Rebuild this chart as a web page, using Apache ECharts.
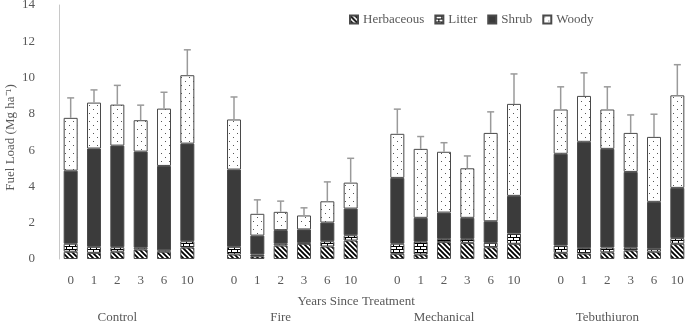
<!DOCTYPE html>
<html>
<head>
<meta charset="utf-8">
<script src="https://cdn.jsdelivr.net/npm/echarts@6/dist/echarts.min.js"></script>
<style>
  html, body { margin: 0; padding: 0; background: #fff; }
  #chart { width: 685px; height: 324px; }
</style>
</head>
<body>
<div id="chart"></div>
<script>
var treatments = ['Control', 'Fire', 'Mechanical', 'Tebuthiuron'];
var years = ['0', '1', '2', '3', '6', '10'];
var yTicks = [0, 2, 4, 6, 8, 10, 12, 14];

// fuel load (Mg/ha) per treatment x year, in order of treatments then years
var herbaceous = [0.40, 0.34, 0.40, 0.52, 0.40, 0.63,
                  0.25, 0.15, 0.74, 0.84, 0.69, 1.02,
                  0.29, 0.25, 0.93, 0.89, 0.65, 0.84,
                  0.34, 0.30, 0.37, 0.47, 0.40, 0.84];
var litter = [0.44, 0.33, 0.25, 0.10, 0.08, 0.35,
              0.42, 0.10, 0.10, 0.05, 0.29, 0.29,
              0.55, 0.70, 0.18, 0.22, 0.24, 0.56,
              0.40, 0.30, 0.26, 0.15, 0.16, 0.31];
var shrub = [4.03, 5.42, 5.60, 5.30, 4.65, 5.38,
             4.26, 1.04, 0.75, 0.74, 1.03, 1.47,
             3.63, 1.32, 1.45, 1.16, 1.19, 2.08,
             5.06, 5.86, 5.44, 4.18, 2.59, 2.77];
var woody = [2.91, 2.53, 2.26, 1.73, 3.16, 3.77,
             2.76, 1.20, 1.01, 0.77, 1.17, 1.43,
             2.43, 3.80, 3.35, 2.73, 4.87, 5.07,
             2.44, 2.53, 2.17, 2.15, 3.58, 5.10];
var totalErr = [1.10, 0.70, 1.06, 0.83, 0.90, 1.40,
                1.24, 0.77, 0.59, 0.42, 1.07, 1.34,
                1.36, 0.68, 0.50, 0.68, 1.16, 1.65,
                1.25, 1.27, 1.25, 0.99, 1.25, 1.69];

(function () {
  var font = 'Liberation Serif';
  var textColor = '#595959';
  var border = '#4a4a4a';

  function pattern(w, h, draw) {
    var c = document.createElement('canvas');
    c.width = w; c.height = h;
    var g = c.getContext('2d');
    g.fillStyle = '#fff';
    g.fillRect(0, 0, w, h);
    draw(g);
    return { image: c, repeat: 'repeat' };
  }

  var hatch = pattern(5, 5, function (g) {
    g.strokeStyle = '#000';
    g.lineWidth = 1.8;
    g.beginPath();
    g.moveTo(-1, -1); g.lineTo(6, 6);
    g.moveTo(-1, 4); g.lineTo(1, 6);
    g.moveTo(4, -1); g.lineTo(6, 1);
    g.stroke();
  });
  var brick = pattern(6, 6, function (g) {
    g.fillStyle = '#000';
    g.fillRect(0, 0, 6, 1);
    g.fillRect(0, 3, 6, 1);
    g.fillRect(0, 0, 1, 3);
    g.fillRect(3, 3, 1, 3);
  });
  var dots = pattern(8, 8, function (g) {
    g.fillStyle = '#555';
    g.fillRect(1, 1, 1, 1);
    g.fillRect(5, 5, 1, 1);
  });

  // lay the 24 bars out on 27 slots, one empty slot between treatments
  var cats = [], groupLabels = [], titleLabels = [], slotOf = [];
  treatments.forEach(function (t, ti) {
    years.forEach(function (y, yi) {
      slotOf.push(cats.length);
      groupLabels.push(yi === 2 ? t : '');
      cats.push(y);
    });
    if (ti < treatments.length - 1) {
      cats.push('');
      groupLabels.push('');
    }
  });
  cats.forEach(function (c, i) { titleLabels.push(i === 12 ? 'Years Since Treatment' : ''); });

  function slots(arr) {
    var out = cats.map(function () { return '-'; });
    arr.forEach(function (v, i) { out[slotOf[i]] = v; });
    return out;
  }

  var errData = herbaceous.map(function (h, i) {
    return [slotOf[i], h + litter[i] + shrub[i] + woody[i], totalErr[i]];
  });

  function barSeries(name, data, color) {
    return {
      name: name,
      type: 'bar',
      stack: 'fuel',
      barWidth: 14,
      data: slots(data),
      itemStyle: { color: color, borderColor: border, borderWidth: 1 }
    };
  }

  var chart = echarts.init(document.getElementById('chart'));
  chart.setOption({
    animation: false,
    textStyle: { fontFamily: font },
    legend: {
      left: 344,
      top: 8,
      itemWidth: 8,
      itemHeight: 8,
      itemGap: 10,
      icon: 'rect',
      textStyle: { color: textColor, fontSize: 13, fontFamily: font },
      data: ['Herbaceous', 'Litter', 'Shrub', 'Woody']
    },
    grid: { left: 59, width: 630, top: 5, bottom: 65, containLabel: false, outerBoundsMode: 'none' },
    xAxis: [{
      type: 'category',
      data: cats,
      axisLine: { show: false },
      axisTick: { show: false },
      axisLabel: { color: textColor, fontSize: 13, fontFamily: font, margin: 15, interval: 0 }
    }, {
      type: 'category',
      data: titleLabels,
      position: 'bottom',
      axisLine: { show: false },
      axisTick: { show: false },
      axisLabel: { color: textColor, fontSize: 13, fontFamily: font, margin: 36, interval: 0, padding: [0, 0, 0, 11] }
    }, {
      type: 'category',
      data: groupLabels,
      position: 'bottom',
      axisLine: { show: false },
      axisTick: { show: false },
      axisLabel: { color: textColor, fontSize: 13, fontFamily: font, margin: 52, interval: 0 }
    }],
    yAxis: {
      type: 'value',
      min: yTicks[0],
      max: yTicks[yTicks.length - 1],
      interval: yTicks[1] - yTicks[0],
      name: 'Fuel Load (Mg ha\u207B\u00B9)',
      nameLocation: 'middle',
      nameGap: 42,
      nameMoveOverlap: false,
      nameTextStyle: { color: textColor, fontSize: 13, fontFamily: font, padding: [0, 11, 0, 0] },
      axisLine: { show: true, lineStyle: { color: '#c8c8c8' } },
      axisTick: { show: false },
      splitLine: { show: false },
      axisLabel: { color: textColor, fontSize: 13, fontFamily: font, margin: 24 }
    },
    series: [
      barSeries('Herbaceous', herbaceous, hatch),
      barSeries('Litter', litter, brick),
      barSeries('Shrub', shrub, '#3b3b3b'),
      barSeries('Woody', woody, dots),
      {
        type: 'custom',
        z: 5,
        data: errData,
        renderItem: function (params, api) {
          var x = api.value(0), top = api.value(1), e = api.value(2);
          var p0 = api.coord([x, top]);
          var p1 = api.coord([x, top + e]);
          var st = { stroke: '#9a9a9a', lineWidth: 1.5 };
          return {
            type: 'group',
            children: [
              { type: 'line', shape: { x1: p0[0], y1: p0[1], x2: p1[0], y2: p1[1] }, style: st },
              { type: 'line', shape: { x1: p1[0] - 3.5, y1: p1[1], x2: p1[0] + 3.5, y2: p1[1] }, style: st }
            ]
          };
        }
      }
    ]
  });
})();
</script>
</body>
</html>
